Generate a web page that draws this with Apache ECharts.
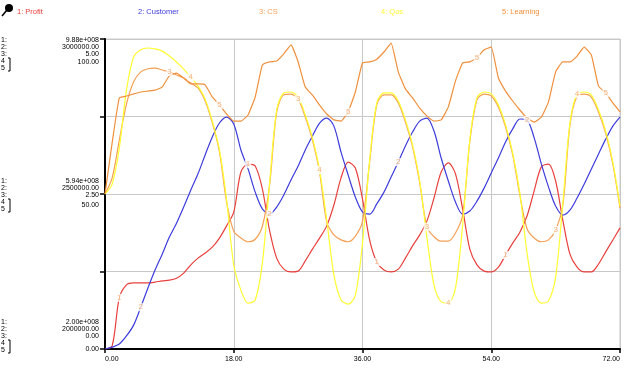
<!DOCTYPE html>
<html><head><meta charset="utf-8">
<script src="https://cdn.jsdelivr.net/npm/echarts@6/dist/echarts.min.js"></script>
<style>html,body{margin:0;padding:0;background:#fff}#c{width:625px;height:391px}</style>
</head><body><div id="c"></div>
<script>
const time = [0,1,2,3,4,5,6,7,8,9,10,11,12,13,14,15,16,17,18,19,20,21,22,23,24,25,26,27,28,29,30,31,32,33,34,35,36,37,38,39,40,41,42,43,44,45,46,47,48,49,50,51,52,53,54,55,56,57,58,59,60,61,62,63,64,65,66,67,68,69,70,71,72];
const profit = [2.00e8,2.08e8,3.30e8,3.63e8,3.68e8,3.68e8,3.68e8,3.70e8,3.73e8,3.75e8,
3.80e8,3.93e8,4.14e8,4.31e8,4.44e8,4.59e8,4.82e8,5.13e8,5.48e8,6.50e8,
6.70e8,6.65e8,6.07e8,5.02e8,4.31e8,4.03e8,3.96e8,3.98e8,4.24e8,4.54e8,
4.82e8,5.13e8,5.66e8,6.35e8,6.75e8,6.60e8,5.81e8,4.77e8,4.21e8,4.01e8,
3.96e8,4.03e8,4.31e8,4.62e8,4.90e8,5.25e8,5.84e8,6.50e8,6.73e8,6.45e8,
5.56e8,4.54e8,4.14e8,3.98e8,3.96e8,4.08e8,4.39e8,4.69e8,4.97e8,5.38e8,
6.02e8,6.63e8,6.70e8,6.27e8,5.28e8,4.41e8,4.08e8,3.96e8,3.96e8,4.16e8,
4.47e8,4.77e8,5.08e8];
const customer = [2000000,2006000,2016000,2042000,2077000,2135000,2197000,2255000,2306000,2361000,
2406000,2458000,2513000,2565000,2626000,2684000,2729000,2748000,2726000,2642000,
2581000,2506000,2452000,2435000,2458000,2497000,2545000,2590000,2642000,2687000,
2729000,2745000,2719000,2635000,2561000,2490000,2442000,2435000,2468000,2506000,
2555000,2603000,2655000,2700000,2735000,2745000,2703000,2616000,2542000,2474000,
2435000,2445000,2477000,2519000,2568000,2616000,2668000,2710000,2742000,2739000,
2681000,2597000,2523000,2461000,2432000,2448000,2487000,2532000,2581000,2629000,
2677000,2719000,2748000];
const cs = [2.50,2.76,3.37,3.95,4.31,4.47,4.52,4.53,4.50,4.47,
4.42,4.37,4.29,4.21,4.00,3.65,3.18,2.37,1.90,1.79,
1.73,1.77,1.98,2.63,3.82,4.10,4.11,4.03,3.74,3.37,
2.85,2.05,1.84,1.76,1.73,1.82,2.06,3.02,3.94,4.10,
4.10,3.97,3.66,3.26,2.68,1.97,1.81,1.74,1.74,1.87,
2.16,3.34,4.02,4.11,4.08,3.90,3.58,3.13,2.48,1.94,
1.79,1.73,1.76,1.92,2.31,3.61,4.08,4.11,4.06,3.82,
3.48,2.98,2.27];
const qos = [50.0,53.2,64.8,83.5,94.2,96.5,97.1,96.8,96.1,94.5,
92.6,90.3,87.7,84.8,80.6,73.5,64.2,48.1,27.1,19.0,
14.8,15.8,27.7,53.2,77.1,82.6,82.9,81.3,75.5,68.1,
57.7,41.6,23.9,15.8,14.5,17.4,34.2,61.0,79.4,82.6,
82.6,80.0,73.9,65.8,54.2,36.1,20.6,15.2,14.8,19.7,
40.0,67.4,81.0,82.9,82.3,78.7,72.3,63.2,50.3,31.0,
18.4,14.8,15.5,23.2,46.8,72.9,82.3,82.9,81.9,77.1,
70.3,60.3,46.1];
const learning = [50.0,66.5,81.0,81.6,82.3,82.9,83.2,83.5,84.5,88.1,
89.0,87.4,85.5,85.5,85.2,81.3,78.7,75.8,73.5,73.5,
75.5,81.3,91.6,92.6,92.9,95.2,98.1,92.6,84.5,81.9,
78.7,75.8,73.9,73.5,76.5,82.9,92.3,92.6,93.5,95.8,
98.7,89.4,83.9,81.0,77.7,75.2,73.5,73.9,78.1,86.5,
92.3,92.6,93.9,96.5,97.4,87.4,83.2,80.0,77.1,74.5,
73.2,74.8,79.7,89.4,92.6,92.6,94.5,97.4,94.8,84.8,
82.6,79.4,76.5];

const names = ['1: Profit','2: Customer','3: CS','4: Qos','5: Learning'];
const marks = ['1','2','3','4','5'];
const colors = ['#e8403c','#3c3cdc','#f4a055','#ffff33','#f0903c'];
const legendX = [17,138,259,381,502];
const labelIdx = [[2,20,38,56],[5,23,41,59],[9,27,45,63],[12,30,48,66],[16,34,52,70]];
const scaleNums = ['1:','2:','3:','4','5'];
const scaleTop = ['9.88e+008','3000000.00','5.00','100.00'];
const scaleMid = ['5.94e+008','2500000.00','2.50','50.00'];
const scaleBot = ['2.00e+008','2000000.00','0.00','0.00'];

const seriesData = [profit, customer, cs, qos, learning];
const axisOf = [1, 2, 3, 0, 0];
const FONT = '"Liberation Sans", Arial, sans-serif';

const chart = echarts.init(document.getElementById('c'), null, {renderer: 'canvas'});
const series = [];
seriesData.forEach((arr, k) => {
  series.push({
    type: 'line', name: names[k], yAxisIndex: axisOf[k],
    data: time.map((t, i) => [t, arr[i]]),
    showSymbol: false, symbol: 'none',
    smooth: k === 4 ? 0.12 : 0.3,
    lineStyle: {color: colors[k], width: 1.2},
    z: 2 + k
  });
});
seriesData.forEach((arr, k) => {
  series.push({
    type: 'scatter', yAxisIndex: axisOf[k],
    data: labelIdx[k].map(i => [time[i], arr[i]]),
    symbol: 'circle', symbolSize: 1, itemStyle: {color: 'rgba(0,0,0,0)'},
    label: {show: true, position: 'inside', formatter: marks[k], color: '#f0a060',
      fontSize: 8, fontFamily: FONT, backgroundColor: '#fff', padding: [0, 1]},
    z: 20
  });
});

chart.setOption({
  animation: false,
  grid: {left: 105, right: 5, top: 39, bottom: 42, show: true, borderColor: '#c8c8c8', borderWidth: 1},
  xAxis: {
    type: 'value', min: 0, max: 72, interval: 18,
    axisLine: {show: true, lineStyle: {color: '#000', width: 2}},
    axisTick: {show: true, length: 4, lineStyle: {color: '#000', width: 1.5}},
    axisLabel: {formatter: v => v.toFixed(2), fontSize: 7, color: '#000', margin: 7, fontFamily: FONT,
      alignMinLabel: 'left', alignMaxLabel: 'right'},
    splitLine: {show: true, lineStyle: {color: '#c8c8c8', width: 1}}
  },
  yAxis: [
    {type: 'value', min: 0, max: 100, interval: 25, position: 'left',
     axisLine: {show: true, lineStyle: {color: '#000', width: 2}},
     axisTick: {show: true, length: 5, lineStyle: {color: '#000', width: 1.5}},
     axisLabel: {show: false},
     splitLine: {show: true, lineStyle: {color: '#c8c8c8', width: 1}}},
    {type: 'value', min: 2e8, max: 9.88e8, show: false, splitLine: {show: false}},
    {type: 'value', min: 2e6, max: 3e6, show: false, splitLine: {show: false}},
    {type: 'value', min: 0, max: 5, show: false, splitLine: {show: false}}
  ],
  series: series
});

const g = [];
// legend
names.forEach((n, k) => {
  g.push({type: 'text', x: legendX[k], y: 12, z: 50,
    style: {text: n, fill: colors[k], font: '7.5px ' + FONT, verticalAlign: 'middle', align: 'left'}});
});
// pin icon
g.push({type: 'line', shape: {x1: 7, y1: 10, x2: 2, y2: 16}, style: {stroke: '#000', lineWidth: 1.5}, z: 50});
g.push({type: 'circle', shape: {cx: 9, cy: 8, r: 4}, style: {fill: '#000'}, z: 50});
// scale labels
function group(vals, py, startOff, lastOff) {
  const rows = [0, 7, 14, 21, 28].map(d => py + startOff + d);
  scaleNums.forEach((s, i) => {
    g.push({type: 'text', x: 1, y: rows[i], z: 50,
      style: {text: s, fill: '#000', font: '7px ' + FONT, verticalAlign: 'middle', align: 'left'}});
  });
  g.push({type: 'polyline', shape: {points: [[8, rows[3] - 3], [10, rows[3] - 3], [10, rows[4] + 3], [8, rows[4] + 3]]},
    style: {stroke: '#000', lineWidth: 1, fill: null}, z: 50});
  vals.forEach((s, i) => {
    const yy = i < 3 ? rows[i] : py + lastOff;
    g.push({type: 'text', x: 99, y: yy, z: 50,
      style: {text: s, fill: '#000', font: '7px ' + FONT, verticalAlign: 'middle', align: 'right'}});
  });
}
const pTop = chart.convertToPixel({yAxisIndex: 0}, 100);
const pMid = chart.convertToPixel({yAxisIndex: 0}, 50);
const pBot = chart.convertToPixel({yAxisIndex: 0}, 0);
group(scaleTop, pTop, 1, 23);
group(scaleMid, pMid, -13, 11);
group(scaleBot, pBot, -27, 0);
chart.setOption({graphic: g});
</script></body></html>
